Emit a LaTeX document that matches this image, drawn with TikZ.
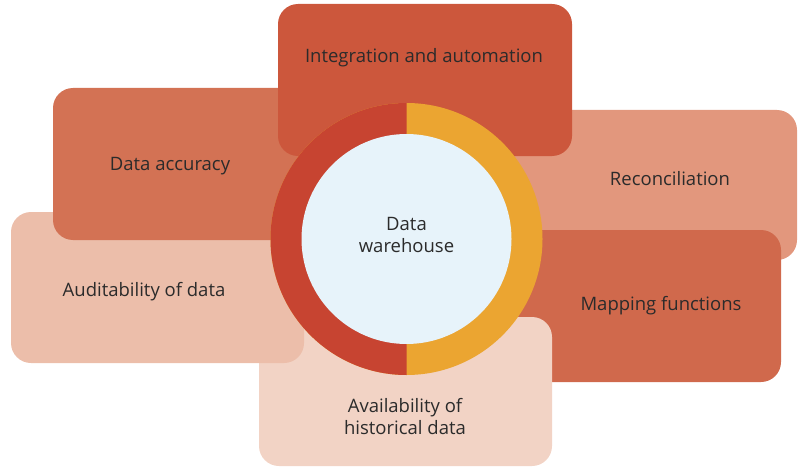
\documentclass[tikz,border=0pt]{standalone}
\usepackage{fontspec}
\setmainfont{Open Sans}
\definecolor{cInteg}{HTML}{CC573C}
\definecolor{cAccur}{HTML}{D37254}
\definecolor{cRecon}{HTML}{E2977D}
\definecolor{cAudit}{HTML}{ECBEAA}
\definecolor{cMapp}{HTML}{D0694C}
\definecolor{cAvail}{HTML}{F2D3C5}
\definecolor{cRingR}{HTML}{C74431}
\definecolor{cRingO}{HTML}{EBA531}
\definecolor{cInner}{HTML}{E7F3FA}
\definecolor{cText}{HTML}{2B2B2B}
\tikzset{
  card/.style={rounded corners=20pt},
  lbl/.style={anchor=base, text=cText, font=\fontsize{18.5}{21.5}\selectfont, align=center, inner sep=0pt},
}
\begin{document}
\begin{tikzpicture}[x=1pt,y=-1pt]
\useasboundingbox (0,0) rectangle (803,468);
% cards, bottom to top
\fill[cRecon,card] (504,110) rectangle (797,260);
\fill[cMapp,card] (488,230) rectangle (781,382);
\fill[cAvail,card] (259,317) rectangle (552,466);
\fill[cAudit,card] (11,212) rectangle (304,363);
\fill[cAccur,card] (53,88) rectangle (346,240);
\fill[cInteg,card] (278,4) rectangle (572,156);
% ring
\coordinate (c) at (406.5,239);
\fill[cRingO] (c) circle[radius=136];
\begin{scope}
  \clip (0,0) rectangle (406.5,468);
  \fill[cRingR] (c) circle[radius=136];
\end{scope}
\fill[cInner] (c) circle[radius=105];
% labels
\node[lbl] (integ) at (424,63) {Integration and automation};
\node[lbl] (accur) at (170,171) {Data accuracy};
\node[lbl] (recon) at (670,185) {Reconciliation};
\node[lbl] (audit) at (144,296) {Auditability of data};
\node[lbl] (mapp) at (661,310) {Mapping functions};
\node[lbl] (avail) at (405,434) {Availability of\\historical data};
\node[lbl] (dw) at (406.5,252) {Data\\warehouse};
\end{tikzpicture}
\end{document}
